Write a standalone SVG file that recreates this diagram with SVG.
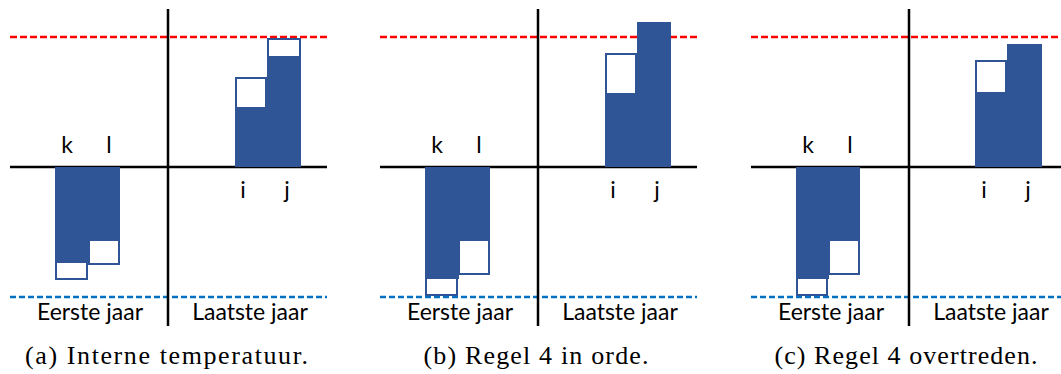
<svg xmlns="http://www.w3.org/2000/svg" width="1061" height="374" viewBox="0 0 1061 374">
<style>
.ax{stroke:#000;stroke-width:2.5;fill:none}
.red{stroke:#FF0000;stroke-width:2.5;stroke-dasharray:7 3;fill:none}
.blue{stroke:#0070C0;stroke-width:2.5;stroke-dasharray:6 3;fill:none}
.bar{fill:#2F5597}
.box{fill:#fff;stroke:#2F5597;stroke-width:2}
.lbl{font-family:Lato,"Open Sans",sans-serif;font-size:23px;fill:#000;text-anchor:middle}
.cap{font-family:"Liberation Serif",serif;font-size:26px;fill:#000;text-anchor:middle}
</style>
<defs>
<g id="frame">
<line class="red" x1="10" y1="37" x2="327" y2="37"/>
<line class="blue" x1="10" y1="297" x2="327" y2="297"/>
<line class="ax" x1="10" y1="167" x2="327" y2="167"/>
<line class="ax" x1="168" y1="9" x2="168" y2="326"/>
<text class="lbl" x="67" y="153">k</text>
<text class="lbl" x="109" y="153">l</text>
<text class="lbl" x="243" y="198">i</text>
<text class="lbl" x="287" y="198">j</text>
<text class="lbl" x="90" y="320">Eerste jaar</text>
<text class="lbl" x="250" y="320">Laatste jaar</text>
</g>
</defs>
<g id="panel-a">
<use href="#frame"/>
<rect class="bar" x="55" y="167" width="33" height="96"/>
<rect class="box" x="56" y="262" width="31" height="17"/>
<rect class="bar" x="88" y="167" width="32" height="74"/>
<rect class="box" x="89" y="240" width="30" height="24"/>
<rect class="bar" x="235" y="107" width="32" height="60"/>
<rect class="box" x="236" y="78" width="30" height="30"/>
<rect class="bar" x="267" y="56" width="34" height="111"/>
<rect class="box" x="268" y="39" width="32" height="18"/>
<text class="cap" x="166.5" y="364" textLength="283" lengthAdjust="spacing">(a) Interne temperatuur.</text>
</g>
<g id="panel-b" transform="translate(370 0)">
<use href="#frame"/>
<rect class="bar" x="55" y="167" width="34" height="112"/>
<rect class="box" x="56" y="278" width="31" height="17"/>
<rect class="bar" x="88" y="167" width="32" height="74"/>
<rect class="box" x="89" y="240" width="30" height="34"/>
<rect class="bar" x="235" y="93" width="33" height="74"/>
<rect class="box" x="236" y="54" width="30" height="40"/>
<rect class="bar" x="267" y="22" width="34" height="145"/>
<text class="cap" x="166" y="364" textLength="225" lengthAdjust="spacing">(b) Regel 4 in orde.</text>
</g>
<g id="panel-c" transform="translate(741 0)">
<use href="#frame"/>
<rect class="bar" x="55" y="167" width="33" height="112"/>
<rect class="box" x="56" y="278" width="30" height="17"/>
<rect class="bar" x="87" y="167" width="32" height="74"/>
<rect class="box" x="88" y="240" width="30" height="34"/>
<rect class="bar" x="234" y="92" width="33" height="75"/>
<rect class="box" x="235" y="61" width="30" height="32"/>
<rect class="bar" x="266" y="44" width="35" height="123"/>
<text class="cap" x="165" y="364" textLength="263" lengthAdjust="spacing">(c) Regel 4 overtreden.</text>
</g>
</svg>
